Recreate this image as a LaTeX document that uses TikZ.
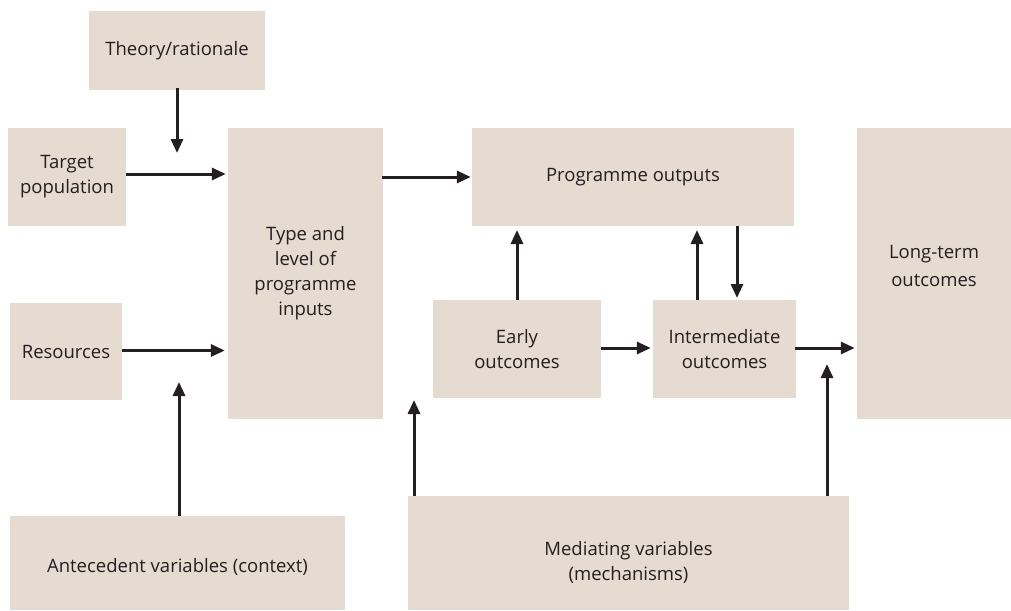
\documentclass[tikz,border=0pt]{standalone}
\usepackage{fontspec}
\setmainfont{Open Sans}
\usetikzlibrary{arrows.meta,calc}
\definecolor{boxfill}{RGB}{229,219,208}
\definecolor{ink}{RGB}{35,31,32}
\begin{document}
\begin{tikzpicture}[x=1pt,y=-1pt,
  box/.style={fill=boxfill,draw=none,inner sep=0pt,align=center,text=ink,
    font=\fontsize{18.5}{25}\selectfont},
  arr/.style={draw=ink,line width=3pt,-{Triangle[length=14pt,width=12pt]}}]
\useasboundingbox (0,0) rectangle (1011,610);
\node[box,minimum width=176,minimum height=79] (theory) at (177,50.5) {Theory/rationale};
\node[box,minimum width=118,minimum height=98] (target) at (67,177) {Target\\population};
\node[box,minimum width=155,minimum height=291] (type) at (305.5,273.5) {Type and\\level of\\programme\\inputs};
\node[box,minimum width=112,minimum height=97] (resources) at (66,351.5) {Resources};
\node[box,minimum width=335,minimum height=94] (ant) at (177.5,563) {\mbox{}\\[-4pt]Antecedent variables (context)};
\node[box,minimum width=322,minimum height=98] (outputs) at (633,177) {Programme outputs};
\node[box,minimum width=168,minimum height=98] (early) at (517,349) {Early\\outcomes};
\node[box,minimum width=143,minimum height=98] (inter) at (724.5,349) {Intermediate\\outcomes};
\node[box,minimum width=154,minimum height=291] (long) at (934,273.5) {Long-term\\[3pt]outcomes\\[-9pt]};
\node[box,minimum width=441,minimum height=114] (med) at (628.5,553) {\mbox{}\\[8pt]Mediating variables\\(mechanisms)};
% free ends
\coordinate (thEnd) at (177,153);
\coordinate (antEnd) at (179,382);
\coordinate (medL) at (414,400);
\coordinate (medR) at (827,364);
\coordinate (upA) at (517,230);
\coordinate (upB) at (697,230);
\coordinate (dnB) at (737,298);
% arrows
\draw[arr] ([yshift=2]theory.south) -- (thEnd);
\draw[arr] ([yshift=3]target.east) -- ([xshift=-2,yshift=3]type.west |- target.east);
\draw[arr] ([yshift=1]resources.east) -- ([xshift=-3,yshift=1]type.west |- resources.east);
\draw[arr] (ant.north -| antEnd) -- (antEnd);
\draw[arr] ([xshift=-1]type.east |- outputs.west) -- ([xshift=-1]outputs.west);
\draw[arr] (early.north -| upA) -- (upA);
\draw[arr] (inter.north -| upB) -- (upB);
\draw[arr] (outputs.south -| dnB) -- (dnB);
\draw[arr] ([yshift=1]early.east) -- ([xshift=-2,yshift=1]inter.west);
\draw[arr] ([xshift=-1,yshift=1]inter.east) -- ([xshift=-2,yshift=1]long.west |- inter.east);
\draw[arr] (med.north -| medL) -- (medL);
\draw[arr] (med.north -| medR) -- (medR);
\end{tikzpicture}
\end{document}
